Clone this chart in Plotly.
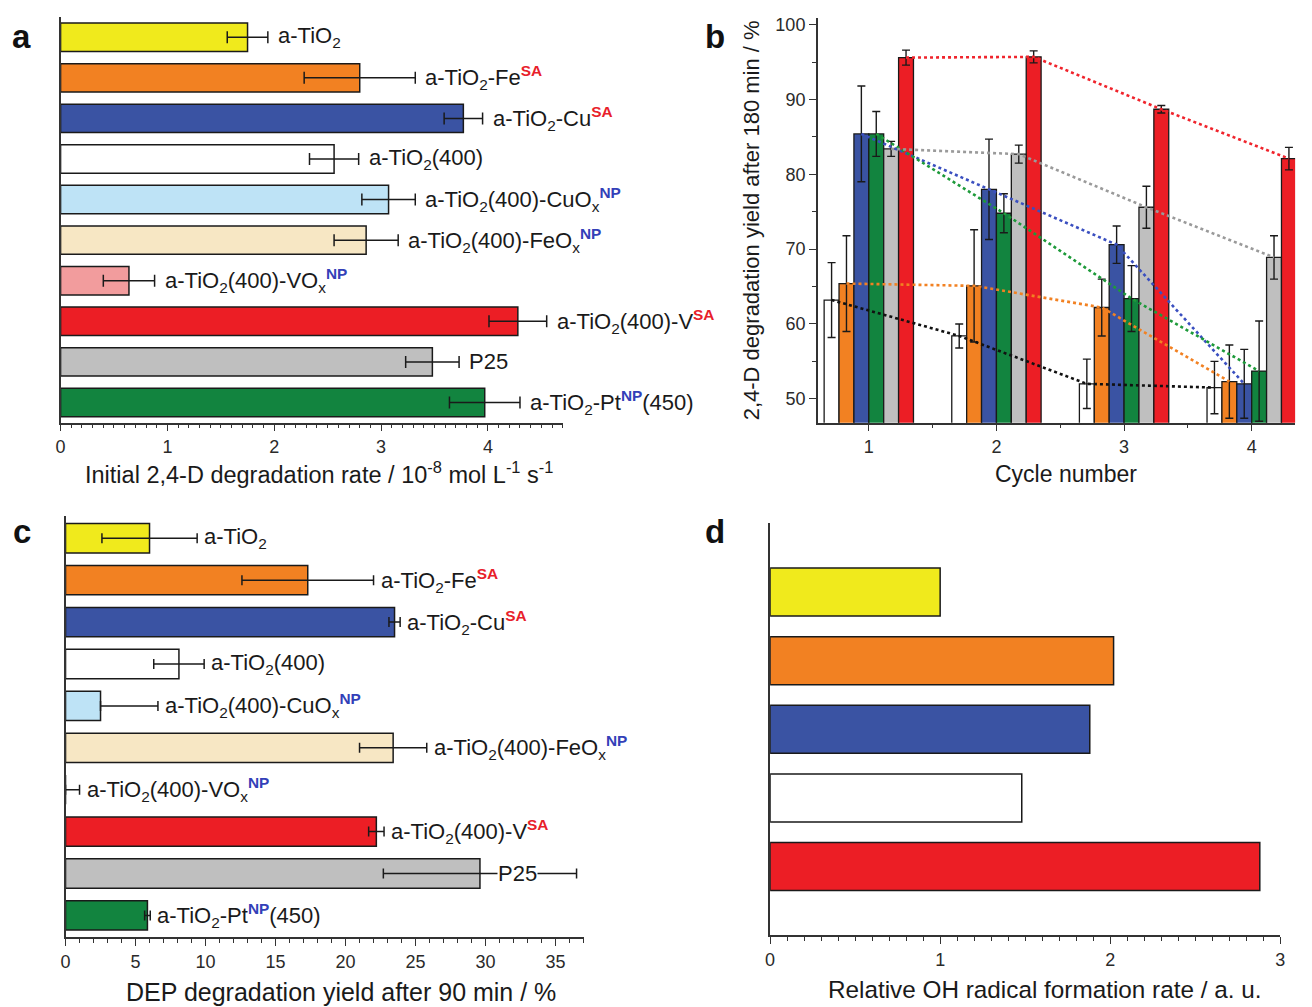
import plotly.graph_objects as go

# ---------------- data ----------------
SA = "<sup><span style='color:#E8202A'><b>SA</b></span></sup>"
NP = "<sup><span style='color:#3340B8'><b>NP</b></span></sup>"

sample_keys = ["aTiO2", "Fe_SA", "Cu_SA", "aTiO2_400", "CuOx_NP", "FeOx_NP",
               "VOx_NP", "V_SA", "P25", "Pt_NP"]
sample_labels = ["a-TiO<sub>2</sub>",
                 "a-TiO<sub>2</sub>-Fe" + SA,
                 "a-TiO<sub>2</sub>-Cu" + SA,
                 "a-TiO<sub>2</sub>(400)",
                 "a-TiO<sub>2</sub>(400)-CuO<sub>x</sub>" + NP,
                 "a-TiO<sub>2</sub>(400)-FeO<sub>x</sub>" + NP,
                 "a-TiO<sub>2</sub>(400)-VO<sub>x</sub>" + NP,
                 "a-TiO<sub>2</sub>(400)-V" + SA,
                 "P25",
                 "a-TiO<sub>2</sub>-Pt" + NP + "(450)"]
sample_colors = ["#F0EA1C", "#F28122", "#3A53A3", "#FFFFFF", "#BEE3F6",
                 "#F7E7C4", "#F29C9D", "#EC1E25", "#BFBFBF", "#12843F"]

# panel a: initial 2,4-D degradation rate
rate = [1.75, 2.80, 3.77, 2.56, 3.07, 2.86, 0.64, 4.28, 3.48, 3.97]
rate_err = [0.19, 0.52, 0.18, 0.23, 0.25, 0.30, 0.24, 0.27, 0.25, 0.33]

# panel c: DEP degradation yield after 90 min
dep = [6.0, 17.3, 23.5, 8.1, 2.5, 23.4, 0.0, 22.2, 29.6, 5.85]
dep_err_plus = [3.4, 4.7, 0.4, 1.8, 4.1, 2.4, 1.0, 0.55, 6.9, 0.2]
dep_err_minus = [3.4, 4.7, 0.4, 1.8, 0.0, 2.4, 0.0, 0.55, 6.9, 0.2]

# panel b: cycling
cycles = [1, 2, 3, 4]
b_names = ["a-TiO2(400)", "a-TiO2-Fe SA", "a-TiO2-Cu SA", "a-TiO2-Pt NP(450)", "P25", "a-TiO2(400)-V SA"]
b_colors = ["#FFFFFF", "#F28122", "#3A53A3", "#12843F", "#BFBFBF", "#EC1E25"]
b_line_colors = ["#111111", "#F28122", "#3A4FC0", "#1E9A3A", "#9A9A9A", "#F0242C"]
b_white = [63.2, 58.4, 52.0, 51.5]
b_white_err = [5.0, 1.6, 3.3, 3.5]
b_fe = [65.4, 65.1, 62.2, 52.3]
b_fe_err = [6.4, 7.5, 3.8, 4.9]
b_cu = [85.4, 78.0, 70.6, 52.0]
b_cu_err = [6.4, 6.7, 2.5, 4.6]
b_pt = [85.4, 74.8, 63.4, 53.7]
b_pt_err = [3.0, 2.6, 4.4, 6.7]
b_p25 = [83.4, 82.7, 75.6, 68.9]
b_p25_err = [1.0, 1.2, 2.8, 2.9]
b_v = [95.6, 95.7, 88.7, 82.1]
b_v_err = [1.0, 0.8, 0.5, 1.5]
b_values = [b_white, b_fe, b_cu, b_pt, b_p25, b_v]
b_errors = [b_white_err, b_fe_err, b_cu_err, b_pt_err, b_p25_err, b_v_err]

# panel d: relative OH radical formation rate
d_keys = ["aTiO2", "Fe_SA", "Cu_SA", "aTiO2_400", "V_SA"]
d_values = [1.00, 2.02, 1.88, 1.48, 2.88]
d_colors = ["#F0EA1C", "#F28122", "#3A53A3", "#FFFFFF", "#EC1E25"]

# axis titles
title_a = "Initial 2,4-D degradation rate / 10<sup>-8</sup> mol L<sup>-1</sup> s<sup>-1</sup>"
title_bx = "Cycle number"
title_by = "2,4-D degradation yield after 180 min / %"
title_c = "DEP degradation yield after 90 min / %"
title_d = "Relative OH radical formation rate / a. u."

# ---------------- figure ----------------
FONT = "Liberation Sans, Arial, sans-serif"
AX = "#333333"
W, H = 1312, 1007
BARGAP = 0.3
LABEL_SIZE = 22

fig = go.Figure()

# panel a
fig.add_trace(go.Bar(
    x=rate, y=sample_keys, orientation="h", xaxis="x", yaxis="y",
    marker=dict(color=sample_colors, line=dict(color="#1a1a1a", width=1.5)),
    error_x=dict(type="data", array=rate_err, color="#1a1a1a", thickness=1.5, width=6),
    showlegend=False))

# panel b
group_w = 1 - BARGAP
nser = len(b_values)
for i, (vals, errs) in enumerate(zip(b_values, b_errors)):
    fig.add_trace(go.Bar(
        x=cycles, y=vals, xaxis="x2", yaxis="y2", name=b_names[i],
        marker=dict(color=b_colors[i], line=dict(color="#1a1a1a", width=1.3)),
        error_y=dict(type="data", array=errs, color="#1a1a1a", thickness=1.4, width=4),
        showlegend=False))
for i, vals in enumerate(b_values):
    off = (i - (nser - 1) / 2) * group_w / nser
    fig.add_trace(go.Scatter(
        x=[c + off for c in cycles], y=vals, xaxis="x2", yaxis="y2", mode="lines",
        line=dict(color=b_line_colors[i], width=2.6, dash="dot"),
        showlegend=False, hoverinfo="skip"))

# panel c
fig.add_trace(go.Bar(
    x=dep, y=sample_keys, orientation="h", xaxis="x3", yaxis="y3",
    marker=dict(color=sample_colors, line=dict(color="#1a1a1a", width=1.5)),
    error_x=dict(type="data", symmetric=False, array=dep_err_plus, arrayminus=dep_err_minus,
                 color="#1a1a1a", thickness=1.5, width=5),
    showlegend=False))

# panel d
fig.add_trace(go.Bar(
    x=d_values, y=d_keys, orientation="h", xaxis="x4", yaxis="y4",
    marker=dict(color=d_colors, line=dict(color="#1a1a1a", width=1.5)),
    showlegend=False))

annotations = []
# labels panel a
for key, lab, v, e in zip(sample_keys, sample_labels, rate, rate_err):
    annotations.append(dict(x=v + e, y=key, xref="x", yref="y", text=lab, showarrow=False,
                            xanchor="left", yanchor="middle", xshift=8,
                            font=dict(family=FONT, size=LABEL_SIZE, color="#1a1a1a")))
# labels panel c
for key, lab, v, e in zip(sample_keys, sample_labels, dep, dep_err_plus):
    if key == "P25":
        annotations.append(dict(x=v, y=key, xref="x3", yref="y3", text=lab, showarrow=False,
                                xanchor="left", yanchor="middle", xshift=17, bgcolor="white",
                                borderpad=0,
                                font=dict(family=FONT, size=LABEL_SIZE, color="#1a1a1a")))
    else:
        annotations.append(dict(x=v + e, y=key, xref="x3", yref="y3", text=lab, showarrow=False,
                                xanchor="left", yanchor="middle", xshift=5,
                                font=dict(family=FONT, size=LABEL_SIZE, color="#1a1a1a")))

# panel letters
for letter, px, py in [("a", 17, 34), ("b", 715, 34), ("c", 17, 530), ("d", 715, 530)]:
    annotations.append(dict(x=px / W, y=1 - py / H, xref="paper", yref="paper", text="<b>%s</b>" % letter,
                            showarrow=False, xanchor="center", yanchor="middle",
                            font=dict(family=FONT, size=33, color="#111111")))

# x-axis titles (placed as paper annotations)
for txt, cx, cy, size in [(title_a, 316, 471, 23.5), (title_bx, 1069, 472, 23),
                          (title_c, 339, 992, 25), (title_d, 1047, 989, 24.3)]:
    annotations.append(dict(x=cx / W, y=1 - cy / H, xref="paper", yref="paper", text=txt,
                            showarrow=False, xanchor="center", yanchor="middle",
                            font=dict(family=FONT, size=size, color="#1a1a1a")))


def xdom(a, b):
    return [a / W, b / W]


def ydom(top, bottom):
    return [1 - bottom / H, 1 - top / H]


tickfont = dict(family=FONT, size=18, color="#2a2a2a")
common = dict(showline=True, linecolor=AX, linewidth=1.5, showgrid=False, zeroline=False,
              ticks="outside", tickcolor=AX, tickwidth=1.3, ticklen=7, tickfont=tickfont)
ycat = dict(type="category", showline=True, linecolor=AX, linewidth=1.5, showgrid=False,
            zeroline=False, showticklabels=False, ticks="")

fig.update_layout(
    width=W, height=H, margin=dict(l=0, r=0, t=0, b=0),
    paper_bgcolor="white", plot_bgcolor="white",
    barmode="group", bargap=BARGAP, bargroupgap=0,
    font=dict(family=FONT, color="#1a1a1a"),
    annotations=annotations,
    xaxis=dict(domain=xdom(56, 562), anchor="y", range=[0, 4.7], dtick=1, tick0=0,
               minor=dict(dtick=0.1, ticks="outside", ticklen=4, tickcolor=AX), **common),
    yaxis=dict(domain=ydom(14, 421), anchor="x", range=[9.5, -0.5], **ycat),
    xaxis2=dict(domain=xdom(819, 1300), anchor="y2", range=[0.6, 4.34], dtick=1, tick0=0,
                minor=dict(dtick=0.5, ticks="outside", ticklen=4, tickcolor=AX), **common),
    yaxis2=dict(domain=ydom(15, 421), anchor="x2", range=[46.8, 100.9], dtick=10, tick0=0,
                minor=dict(dtick=5, ticks="outside", ticklen=4, tickcolor=AX),
                title=dict(text=title_by, font=dict(family=FONT, size=22, color="#1a1a1a"), standoff=10),
                **common),
    xaxis3=dict(domain=xdom(61, 583), anchor="y3", range=[0, 37], dtick=5, tick0=0,
                minor=dict(dtick=1, ticks="outside", ticklen=4, tickcolor=AX), **common),
    yaxis3=dict(domain=ydom(515, 937), anchor="x3", range=[9.52, -0.52], **ycat),
    xaxis4=dict(domain=xdom(771, 1285), anchor="y4", range=[0, 3], dtick=1, tick0=0,
                minor=dict(dtick=0.1, ticks="outside", ticklen=4, tickcolor=AX), **common),
    yaxis4=dict(domain=ydom(522, 935), anchor="x4", range=[5.0, -1.0], **ycat),
)

fig.write_html("out.html", config={"displayModeBar": False},
               post_script="document.body.style.margin='0';document.body.style.overflow='hidden';")
